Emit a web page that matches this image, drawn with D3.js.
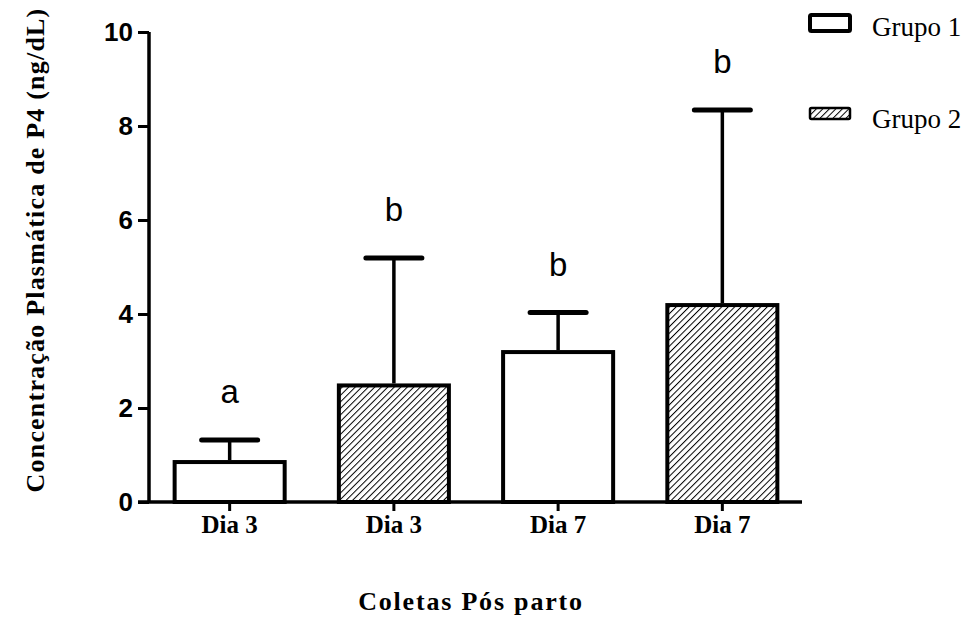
<!DOCTYPE html>
<html>
<head>
<meta charset="utf-8">
<script src="https://cdn.jsdelivr.net/npm/d3@7"></script>
<style>
  body { margin: 0; background: #fff; }
</style>
</head>
<body>
<script>
// data
var categories = ["Dia 3", "Dia 3", "Dia 7", "Dia 7"]
var groups = ["Grupo 1", "Grupo 2", "Grupo 1", "Grupo 2"]
var means = [0.85, 2.48, 3.19, 4.19]
var errors = [0.47, 2.71, 0.84, 4.15]
var letters = ["a", "b", "b", "b"]
var yTicks = [0, 2, 4, 6, 8, 10]

var width = 975, height = 623
var margin = { top: 32, left: 149, bottom: 121, right: 173 }

var svg = d3.select("body").append("svg")
  .attr("width", width)
  .attr("height", height)

var defs = svg.append("defs")
var pat = defs.append("pattern")
  .attr("id", "hatch")
  .attr("patternUnits", "userSpaceOnUse")
  .attr("width", 4.6).attr("height", 4.6)
  .attr("patternTransform", "rotate(45)")
pat.append("rect").attr("width", 4.6).attr("height", 4.6).attr("fill", "#fff")
pat.append("line")
  .attr("x1", 0).attr("y1", 0).attr("x2", 0).attr("y2", 4.6)
  .attr("stroke", "#000").attr("stroke-width", 2)

var x = d3.scaleBand()
  .domain(d3.range(categories.length))
  .range([margin.left + 1, width - margin.right])
  .paddingInner(0.33)
  .paddingOuter(0.15)

var y = d3.scaleLinear()
  .domain([0, 10])
  .range([height - margin.bottom, margin.top])

var fillFor = function(g) { return g == "Grupo 2" ? "url(#hatch)" : "#fff" }

// bars
svg.append("g").selectAll("rect")
  .data(means)
  .enter().append("rect")
  .attr("x", function(d, i) { return x(i) })
  .attr("y", function(d) { return y(d) })
  .attr("width", x.bandwidth())
  .attr("height", function(d) { return y(0) - y(d) })
  .attr("fill", function(d, i) { return fillFor(groups[i]) })
  .attr("stroke", "#000")
  .attr("stroke-width", 4)

// error bars (upper only)
var eb = svg.append("g").selectAll("g")
  .data(means)
  .enter().append("g")
eb.append("line")
  .attr("x1", function(d, i) { return x(i) + x.bandwidth() / 2 })
  .attr("x2", function(d, i) { return x(i) + x.bandwidth() / 2 })
  .attr("y1", function(d) { return y(d) - 2 })
  .attr("y2", function(d, i) { return y(d + errors[i]) })
  .attr("stroke", "#000").attr("stroke-width", 3.5)
eb.append("line")
  .attr("x1", function(d, i) { return x(i) + x.bandwidth() / 2 - 28 })
  .attr("x2", function(d, i) { return x(i) + x.bandwidth() / 2 + 28 })
  .attr("y1", function(d, i) { return y(d + errors[i]) })
  .attr("y2", function(d, i) { return y(d + errors[i]) })
  .attr("stroke", "#000").attr("stroke-width", 5)
  .attr("stroke-linecap", "round")

// significance letters
svg.append("g").selectAll("text")
  .data(letters)
  .enter().append("text")
  .attr("x", function(d, i) { return x(i) + x.bandwidth() / 2 })
  .attr("y", function(d, i) { return y(means[i] + errors[i]) - 37 })
  .attr("text-anchor", "middle")
  .attr("font-family", "Liberation Sans, Arial, sans-serif")
  .attr("font-size", "33px")
  .text(function(d) { return d })

// y axis
var yAxis = svg.append("g")
  .attr("transform", "translate(" + margin.left + ",0)")
  .call(d3.axisLeft(y).tickValues(yTicks).tickSize(11).tickPadding(5))
yAxis.select(".domain").attr("stroke-width", 3.5).attr("d", "M0," + y(10) + "V" + y(0))
yAxis.selectAll(".tick line").attr("stroke-width", 3)
yAxis.selectAll("text")
  .attr("font-family", "Liberation Sans, Arial, sans-serif")
  .attr("font-weight", "bold")
  .attr("font-size", "26px")
  .attr("fill", "#000")

// x axis
var xAxis = svg.append("g")
  .attr("transform", "translate(0," + y(0) + ")")
  .call(d3.axisBottom(x).tickFormat(function(i) { return categories[i] }).tickSize(9).tickPadding(4))
xAxis.select(".domain").attr("stroke-width", 3.5).attr("d", "M" + (margin.left - 11) + ",0H" + (width - margin.right))
xAxis.selectAll(".tick line").attr("stroke-width", 3)
xAxis.selectAll("text")
  .attr("font-family", "Liberation Serif, Times New Roman, serif")
  .attr("font-weight", "bold")
  .attr("font-size", "25px")
  .attr("fill", "#000")

// axis titles
svg.append("text")
  .attr("x", 471).attr("y", 610)
  .attr("text-anchor", "middle")
  .attr("font-family", "Liberation Serif, Times New Roman, serif")
  .attr("font-weight", "bold")
  .attr("font-size", "26px")
  .attr("letter-spacing", "1.8px")
  .text("Coletas Pós parto")

svg.append("text")
  .attr("transform", "translate(44,250) rotate(-90)")
  .attr("text-anchor", "middle")
  .attr("font-family", "Liberation Serif, Times New Roman, serif")
  .attr("font-weight", "bold")
  .attr("font-size", "26px")
  .attr("letter-spacing", "1.2px")
  .text("Concentração Plasmática de P4 (ng/dL)")

// legend
var legendItems = ["Grupo 1", "Grupo 2"]
var lg = svg.append("g").selectAll("g")
  .data(legendItems)
  .enter().append("g")
  .attr("transform", function(d, i) { return "translate(810," + (15 + i * 93) + ")" })
lg.append("rect")
  .attr("width", 40)
  .attr("height", function(d, i) { return i == 0 ? 16 : 11 })
  .attr("fill", function(d) { return fillFor(d) })
  .attr("stroke", "#000")
  .attr("stroke-width", function(d, i) { return i == 0 ? 4 : 2.5 })
  .attr("rx", 1.5)
lg.append("text")
  .attr("x", 62).attr("y", function(d, i) { return i == 0 ? 21 : 20 })
  .attr("font-family", "Liberation Serif, Times New Roman, serif")
  .attr("font-size", "27px")
  .text(function(d) { return d })
</script>
</body>
</html>
